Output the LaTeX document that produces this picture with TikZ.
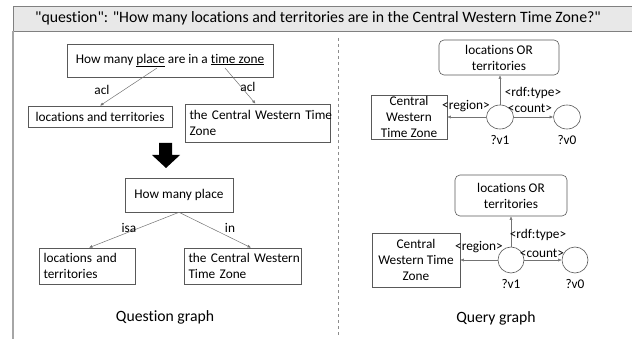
\documentclass[tikz,border=0pt]{standalone}
\usepackage{fontspec}
\setmainfont{Carlito}[Ligatures={TeXOff,NoCommon}]
\usetikzlibrary{arrows.meta,calc,shapes.geometric}
\begin{document}
\begin{tikzpicture}[x=1pt,y=-1pt,
  every node/.style={inner sep=0pt,font=\fontsize{13.3}{16}\selectfont},
  qbox/.style={draw=black!65,line width=0.6pt,rectangle},
  lbox/.style={draw=black!65,line width=0.6pt,rectangle,inner xsep=4.5pt,align=left},
  rbox/.style={draw=black!65,line width=0.6pt,rectangle,rounded corners=5pt},
  link/.style={draw=black!55,line width=0.5pt,-{Latex[length=3.5pt,width=3pt]}},
  lbl/.style={font=\fontsize{13.3}{16}\selectfont},
  captxt/.style={font=\fontsize{15.7}{18}\selectfont}]
\useasboundingbox (0,0) rectangle (632,339);
% title bar and frame
\draw[black!50,line width=0.8pt,fill=black!9] (13,6) rectangle (640,31);
\node[font=\fontsize{15.8}{18}\selectfont] (title) at (318,18.5) {"question": "How many locations and territories are in the Central Western Time Zone?"};
\draw[black!35,line width=1.5pt] (13,31) -- (13,339);
\draw[black!45,line width=0.6pt,dashed] (338.5,38) -- (338.5,336);
% question graph
\node[qbox,minimum width=206pt,minimum height=33pt] (q1) at (170,60.5) {How many \underline{place} are in a \underline{time zone}};
\coordinate (placeU) at (157,68);
\coordinate (zoneU) at (225,68);
\node[qbox,minimum width=144pt,minimum height=21pt] (q2) at (100,116.5) {locations and territories};
\node[lbox,minimum height=38pt,text width=136pt] (q3) at (257.5,123) {\mbox{the Central Western Time}\\\mbox{Zone}};
\draw[link] (placeU) -- (q2.north);
\draw[link] (zoneU) -- ($(q3.north)+(-2,0)$);
\node[lbl] (l1) at (102,90) {acl};
\node[lbl] (l2) at (248,87) {acl};
% big arrow
\fill[black] (159,143) -- (172,143) -- (172,155) -- (180,155) -- (166,168) -- (152,155) -- (159,155) -- cycle;
\node[qbox,minimum width=108pt,minimum height=34pt] (q4) at (179,195) {How many place};
\node[lbox,minimum height=36pt,text width=87pt] (q5) at (87,266) {\mbox{locations and}\\\mbox{territories}};
\node[lbox,minimum height=36pt,text width=108pt] (q6) at (242.5,266) {\mbox{the Central Western}\\\mbox{Time Zone}};
\draw[link] (q4.south) -- ($(q5.north)+(2,0)$);
\draw[link] (q4.south) -- ($(q6.north)+(8.5,0)$);
\node[lbl] (l3) at (129,228) {isa};
\node[lbl] (l4) at (230,228) {in};
\node[captxt] (c1) at (165,317) {Question graph};
% query graph upper
\node[rbox,minimum width=120pt,minimum height=35pt,align=center] (r1) at (499,57.5) {locations OR\\territories};
\node[qbox,minimum width=76pt,minimum height=44pt,align=center] (e1) at (409,117) {Central\\Western\\Time Zone};
\node[draw=black!65,line width=0.6pt,ellipse,minimum width=27pt,minimum height=24pt] (v1) at (500,117) {};
\node[draw=black!65,line width=0.6pt,ellipse,minimum width=27pt,minimum height=24pt] (v0) at (567,117) {};
\node[lbl] (n1) at (500,140) {?v1};
\node[lbl] (n0) at (567,140) {?v0};
\draw[link] (v1.north) -- (r1.south -| v1.north);
\draw[link] (v1.west) -- (e1.east);
\draw[link] (v1.east) -- (v0.west);
\node[lbl] (t1) at (533,93) {<rdf:type>};
\node[lbl] (t2) at (530,108) {<count>};
\node[lbl] (t3) at (466,106) {<region>};
% query graph lower
\node[rbox,minimum width=112pt,minimum height=41pt,align=center] (r2) at (511,195.5) {locations OR\\territories};
\node[qbox,minimum width=88pt,minimum height=54pt,align=center] (e2) at (416,260) {Central\\Western Time\\Zone};
\node[draw=black!65,line width=0.6pt,ellipse,minimum width=26pt,minimum height=26pt] (w1) at (511,260) {};
\node[draw=black!65,line width=0.6pt,ellipse,minimum width=26pt,minimum height=26pt] (w0) at (575,260) {};
\node[lbl] (m1) at (511,284) {?v1};
\node[lbl] (m0) at (575,284) {?v0};
\draw[link] (w1.north) -- (r2.south -| w1.north);
\draw[link] (w1.west) -- (e2.east);
\draw[link] (w1.east) -- (w0.west);
\node[lbl] (s1) at (538,235) {<rdf:type>};
\node[lbl] (s2) at (542,253) {<count>};
\node[lbl] (s3) at (479,247) {<region>};
\node[captxt] (c2) at (496,318) {Query graph};
\end{tikzpicture}
\end{document}
